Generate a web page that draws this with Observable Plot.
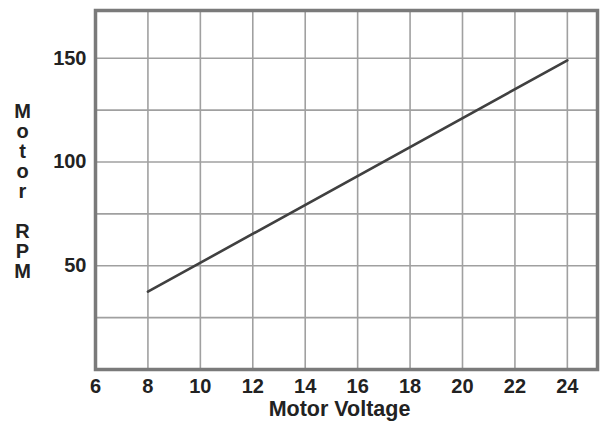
<!DOCTYPE html>
<html>
<head>
<meta charset="utf-8">
<script src="https://cdn.jsdelivr.net/npm/d3@7"></script>
<script src="https://cdn.jsdelivr.net/npm/@observablehq/plot@0.6"></script>
<style>
  html, body { margin: 0; padding: 0; background: #fff; }
  #chart svg { display: block; }
</style>
</head>
<body>
<div id="chart"></div>
<script>
// Data
const voltage = [8, 24];          // Motor Voltage (V)
const rpm = [37.5, 149];          // Motor RPM
const xTicks = [6, 8, 10, 12, 14, 16, 18, 20, 22, 24];
const xGrid = [8, 10, 12, 14, 16, 18, 20, 22, 24];
const yTicks = [50, 100, 150];
const yGrid = [25, 50, 75, 100, 125, 150];
const xDomain = [6, 25.15];
const yDomain = [0, 173];
const xLabel = "Motor Voltage";
const yLabel = "M\no\nt\no\nr\n\u00a0\nR\nP\nM";

const data = voltage.map((v, i) => ({ v, r: rpm[i] }));

const chart = Plot.plot({
  width: 603,
  height: 425,
  marginLeft: 95,
  marginRight: 6,
  marginTop: 10,
  marginBottom: 56,
  style: {
    fontFamily: "'Liberation Sans', Arial, Helvetica, sans-serif",
    fontSize: "20px",
    fontWeight: "bold",
    color: "#222",
    background: "#fff"
  },
  x: { domain: xDomain },
  y: { domain: yDomain },
  marks: [
    Plot.ruleX(xGrid, { stroke: "#a0a0a0", strokeWidth: 1.6 }),
    Plot.ruleY(yGrid, { stroke: "#a0a0a0", strokeWidth: 1.6 }),
    Plot.line(data, { x: "v", y: "r", stroke: "#404040", strokeWidth: 2.6 }),
    Plot.frame({ stroke: "#7a7a7a", strokeWidth: 3.5 }),
    Plot.axisX(xTicks, { tickSize: 0, tickPadding: 9, tickFormat: d => d, fill: "#222", fontSize: 20, fontWeight: "bold", label: null }),
    Plot.axisY(yTicks, { tickSize: 0, tickPadding: 9, tickFormat: d => d, fill: "#222", fontSize: 20, fontWeight: "bold", label: null }),
    Plot.text([xLabel], { frameAnchor: "bottom", dx: -7, dy: 46, text: d => d, fill: "#222", fontSize: 21.5, fontWeight: "bold" }),
    Plot.text([yLabel], { frameAnchor: "top-left", dx: -73, dy: 93, lineAnchor: "top", lineHeight: 1, textAnchor: "middle", text: d => d, fill: "#222", fontSize: 20, fontWeight: "bold" })
  ]
});

document.getElementById("chart").appendChild(chart);
</script>
</body>
</html>
